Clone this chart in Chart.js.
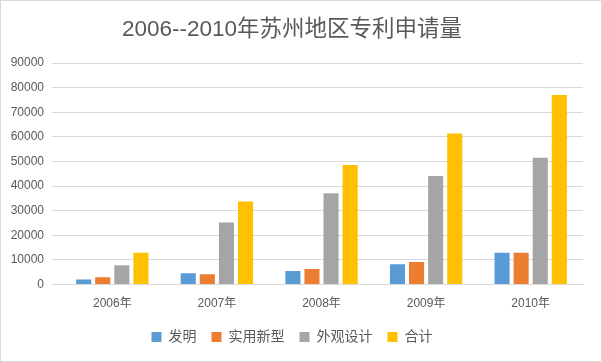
<!DOCTYPE html>
<html>
<head>
<meta charset="utf-8">
<script src="https://cdn.jsdelivr.net/npm/chart.js@4/dist/chart.umd.min.js"></script>
<style>
    body { margin: 0; background: #fff; }
    .chart-box { width: 600px; height: 360px; border: 1px solid #d9d9d9; }
</style>
</head>
<body>
<div class="chart-box"><canvas id="patentChart" width="600" height="360"></canvas></div>
<script>
// Datos
const years = ['2006年', '2007年', '2008年', '2009年', '2010年'];
const invention = [2100, 4600, 5500, 8300, 12900];
const utilityModel = [3000, 4200, 6300, 9200, 12900];
const design = [7900, 25200, 37100, 44100, 51500];
const total = [12900, 33800, 48600, 61400, 77000];
const yTicks = [0, 10000, 20000, 30000, 40000, 50000, 60000, 70000, 80000, 90000];

const fontFamily = "'Liberation Sans', 'Noto Sans CJK SC', sans-serif";
const textColor = '#595959';

new Chart(document.getElementById('patentChart'), {
    type: 'bar',
    data: {
        labels: years,
        datasets: [
            { label: '发明', data: invention, backgroundColor: '#5b9bd5' },
            { label: '实用新型', data: utilityModel, backgroundColor: '#ed7d31' },
            { label: '外观设计', data: design, backgroundColor: '#a5a5a5' },
            { label: '合计', data: total, backgroundColor: '#ffc000' }
        ]
    },
    options: {
        responsive: false,
        animation: false,
        datasets: { bar: { categoryPercentage: 0.73, barPercentage: 0.79 } },
        layout: { padding: { left: 0, right: 18, top: 5, bottom: 7 } },
        plugins: {
            title: {
                display: true,
                text: '2006--2010年苏州地区专利申请量',
                color: textColor,
                font: { family: fontFamily, size: 22.5, weight: 'normal' },
                padding: { top: 10, bottom: 20 }
            },
            legend: {
                position: 'bottom',
                labels: {
                    color: textColor,
                    font: { family: fontFamily, size: 14 },
                    boxWidth: 10,
                    boxHeight: 10,
                    padding: 15
                }
            },
            tooltip: { enabled: false }
        },
        scales: {
            x: {
                grid: { display: false },
                border: { color: '#d9d9d9' },
                ticks: { color: textColor, font: { family: fontFamily, size: 12 }, padding: 4 }
            },
            y: {
                min: 0,
                max: 90000,
                afterFit: function (scale) { scale.width = 59; },
                afterBuildTicks: function (scale) {
                    scale.ticks = yTicks.map(v => ({ value: v }));
                },
                grid: { color: '#d9d9d9' },
                border: { display: false },
                ticks: {
                    color: textColor,
                    font: { family: fontFamily, size: 12 },
                    padding: 8,
                    callback: v => String(v)
                }
            }
        }
    }
});
</script>
</body>
</html>
